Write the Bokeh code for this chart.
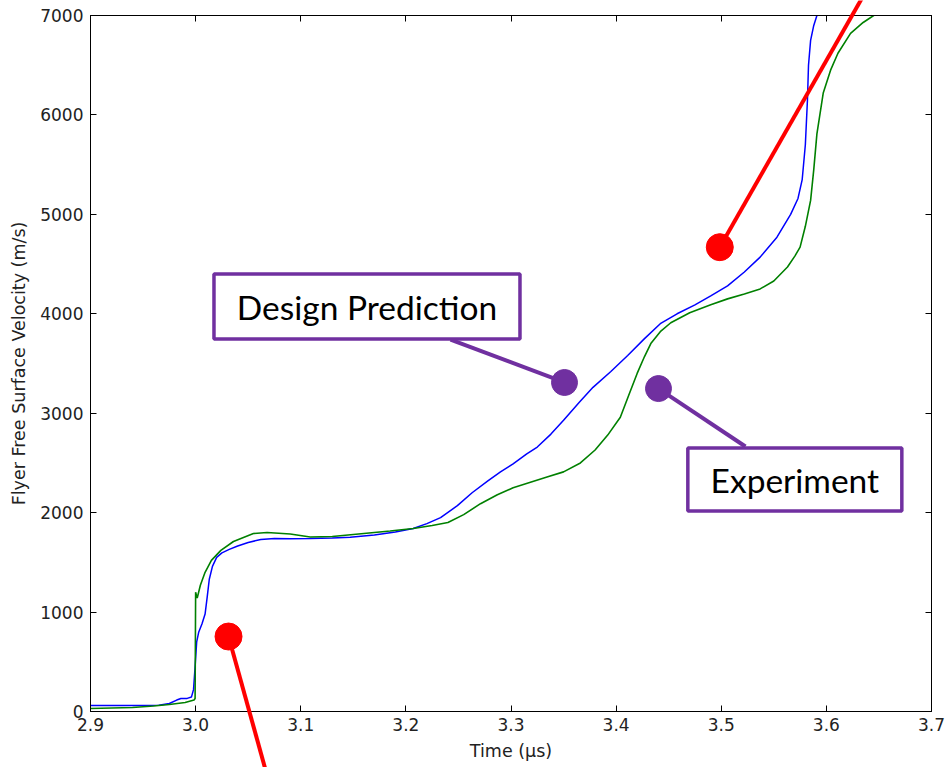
from bokeh.plotting import figure
from bokeh.layouts import column
from bokeh.models import Range1d, FixedTicker, LinearAxis
from bokeh.core.properties import value
from bokeh.embed import file_html
from bokeh.resources import INLINE

# ---- data -------------------------------------------------------------
t_design = [2.900, 2.940, 2.965, 2.975, 2.982, 2.986, 2.992, 2.996, 2.998, 2.9995,
            3.001, 3.003, 3.006, 3.009, 3.011, 3.013, 3.016, 3.020, 3.025, 3.032,
            3.040, 3.050, 3.062, 3.075, 3.090, 3.109, 3.130, 3.147, 3.170, 3.190,
            3.207, 3.220, 3.233, 3.249, 3.263, 3.278, 3.290, 3.302, 3.315, 3.325,
            3.338, 3.350, 3.365, 3.378, 3.395, 3.411, 3.427, 3.442, 3.458, 3.475,
            3.490, 3.506, 3.522, 3.537, 3.553, 3.566, 3.573, 3.577, 3.580, 3.582,
            3.583, 3.585, 3.588, 3.591]
v_design = [60, 60, 62, 80, 115, 130, 132, 145, 220, 450,
            700, 800, 880, 980, 1150, 1330, 1460, 1550, 1595, 1630,
            1665, 1700, 1730, 1740, 1738, 1740, 1745, 1752, 1775, 1805,
            1840, 1890, 1950, 2070, 2200, 2320, 2410, 2490, 2590, 2660,
            2790, 2930, 3110, 3260, 3420, 3580, 3750, 3900, 4000, 4090,
            4180, 4280, 4420, 4570, 4770, 5000, 5160, 5350, 5700, 6150,
            6500, 6750, 6900, 7000]

t_exp = [2.900, 2.920, 2.940, 2.960, 2.975, 2.990, 2.9985, 2.9995, 3.0000, 3.0015,
         3.0045, 3.0090, 3.0150, 3.0240, 3.0360, 3.0550, 3.0680, 3.0900, 3.1090, 3.130,
         3.160, 3.185, 3.207, 3.225, 3.240, 3.255, 3.271, 3.287, 3.302, 3.320,
         3.335, 3.350, 3.366, 3.380, 3.392, 3.404, 3.412, 3.420, 3.427, 3.433,
         3.442, 3.452, 3.470, 3.490, 3.506, 3.522, 3.537, 3.550, 3.563, 3.570,
         3.575, 3.580, 3.585, 3.588, 3.591, 3.597, 3.604, 3.611, 3.623, 3.635,
         3.645, 3.660]
v_exp = [30, 35, 40, 55, 70, 90, 115, 130, 1200, 1140,
         1270, 1400, 1520, 1620, 1710, 1790, 1800, 1785, 1755, 1760,
         1790, 1815, 1840, 1870, 1900, 1980, 2090, 2180, 2250, 2310,
         2360, 2410, 2500, 2630, 2780, 2960, 3180, 3400, 3570, 3700,
         3820, 3910, 4010, 4090, 4150, 4200, 4250, 4330, 4470, 4580,
         4670, 4880, 5140, 5450, 5810, 6220, 6450, 6620, 6820, 6930,
         7000, 7050]

x_ticks = [2.9, 3.0, 3.1, 3.2, 3.3, 3.4, 3.5, 3.6, 3.7]
x_tick_labels = ["2.9", "3.0", "3.1", "3.2", "3.3", "3.4", "3.5", "3.6", "3.7"]
y_ticks = [0, 1000, 2000, 3000, 4000, 5000, 6000, 7000]
y_tick_labels = ["0", "1000", "2000", "3000", "4000", "5000", "6000", "7000"]

# callouts (purple)
callout_text = ["Design Prediction", "Experiment"]
callout_x = [3.163, 3.570]
callout_y = [4073, 2333]
lead_x0 = [3.2425, 3.523]
lead_y0 = [3741, 2665]
lead_dot_x = [3.3509, 3.4403]
lead_dot_y = [3309, 3248]

# red markers
red_dot_x = [3.0313, 3.4986]
red_dot_y = [754, 4670]
red_end_x = [3.0693, 3.638]
red_end_y = [-694, 7251]

# ---- figure -----------------------------------------------------------
PURPLE = "#7030A0"
RED = "#ff0000"
X0, X1, Y0, Y1 = 2.9, 3.7, 0, 7000
FRAME_W, FRAME_H = 841, 696
B_LEFT, B_RIGHT, B_TOP, B_BOTTOM = 90, 15, 15, 56
W = B_LEFT + FRAME_W + B_RIGHT
H = B_TOP + FRAME_H + B_BOTTOM

p = figure(width=W, height=H,
           x_range=Range1d(X0, X1), y_range=Range1d(Y0, Y1),
           output_backend="svg", toolbar_location=None,
           min_border_left=B_LEFT, min_border_right=B_RIGHT,
           min_border_top=B_TOP, min_border_bottom=B_BOTTOM,
           x_axis_label="Time (\u03bcs)", y_axis_label="Flyer Free Surface Velocity (m/s)")
p.xgrid.visible = False
p.ygrid.visible = False
p.outline_line_color = "black"
p.outline_line_width = 1
p.background_fill_color = "white"
p.border_fill_color = "white"

p.xaxis.ticker = FixedTicker(ticks=x_ticks)
p.xaxis.major_label_overrides = dict(zip(x_ticks, x_tick_labels))
p.yaxis.ticker = FixedTicker(ticks=y_ticks)
p.yaxis.major_label_overrides = dict(zip(y_ticks, y_tick_labels))

for ax in (p.xaxis[0], p.yaxis[0]):
    ax.major_tick_in = 6
    ax.major_tick_out = 0
    ax.minor_tick_line_color = None
    ax.axis_line_color = "black"
    ax.major_tick_line_color = "black"
    ax.major_label_text_font = "DejaVu Sans"
    ax.major_label_text_font_size = "17px"
    ax.major_label_text_color = "#222222"
    ax.axis_label_text_font = "DejaVu Sans"
    ax.axis_label_text_font_size = "17.5px"
    ax.axis_label_text_font_style = "normal"
    ax.axis_label_text_color = "#222222"
p.xaxis.major_label_standoff = 6
p.xaxis.axis_label_standoff = 7
p.yaxis.major_label_standoff = 7
p.yaxis.axis_label_standoff = 8

top_ax = LinearAxis(ticker=FixedTicker(ticks=x_ticks))
right_ax = LinearAxis(ticker=FixedTicker(ticks=y_ticks))
for ax in (top_ax, right_ax):
    ax.major_tick_in = 6
    ax.major_tick_out = 0
    ax.minor_tick_line_color = None
    ax.major_label_text_font_size = "0px"
    ax.major_label_text_color = None
    ax.major_label_standoff = 0
    ax.axis_line_color = "black"
p.add_layout(top_ax, "above")
p.add_layout(right_ax, "right")

# curves
p.line(t_design, v_design, line_color="#0000ff", line_width=1.5)
p.line(t_exp, v_exp, line_color="#008000", line_width=1.6)

# purple callouts
p.segment(lead_x0, lead_y0, lead_dot_x, lead_dot_y, line_color=PURPLE, line_width=4)
p.scatter(lead_dot_x, lead_dot_y, size=26, fill_color=PURPLE, line_color=PURPLE)
p.rect(callout_x, callout_y, width=[306, 214], height=[65, 63],
       width_units="screen", height_units="screen",
       fill_color="white", line_color=PURPLE, line_width=3.5)
p.text(callout_x, callout_y, text=callout_text, text_align="center", text_baseline="middle",
       text_font=value("Lato"), text_font_size="33.5px", text_color="black")

# transparent overlay with the same data scale (same x frame, y frame stretched
# over the whole height) so the red lines can run past the axes to the edge
ky = FRAME_H / (Y1 - Y0)
ov = figure(width=W, height=H, title=None,
            x_range=Range1d(X0, X1),
            y_range=Range1d(Y0 - B_BOTTOM / ky, Y1 + B_TOP / ky),
            x_axis_type=None, y_axis_type=None,
            output_backend="svg", toolbar_location=None,
            min_border_left=B_LEFT, min_border_right=B_RIGHT,
            min_border_top=0, min_border_bottom=0,
            styles={"position": "absolute", "top": "0px", "left": "0px"})
ov.outline_line_color = None
ov.background_fill_color = None
ov.border_fill_color = None
ov.grid.visible = False
ov.segment(red_dot_x, red_dot_y, red_end_x, red_end_y, line_color=RED, line_width=4)
ov.scatter(red_dot_x, red_dot_y, size=27, fill_color=RED, line_color=RED)

layout = column(p, ov, styles={"position": "relative"})
open("out.html", "w").write(file_html(layout, INLINE))
